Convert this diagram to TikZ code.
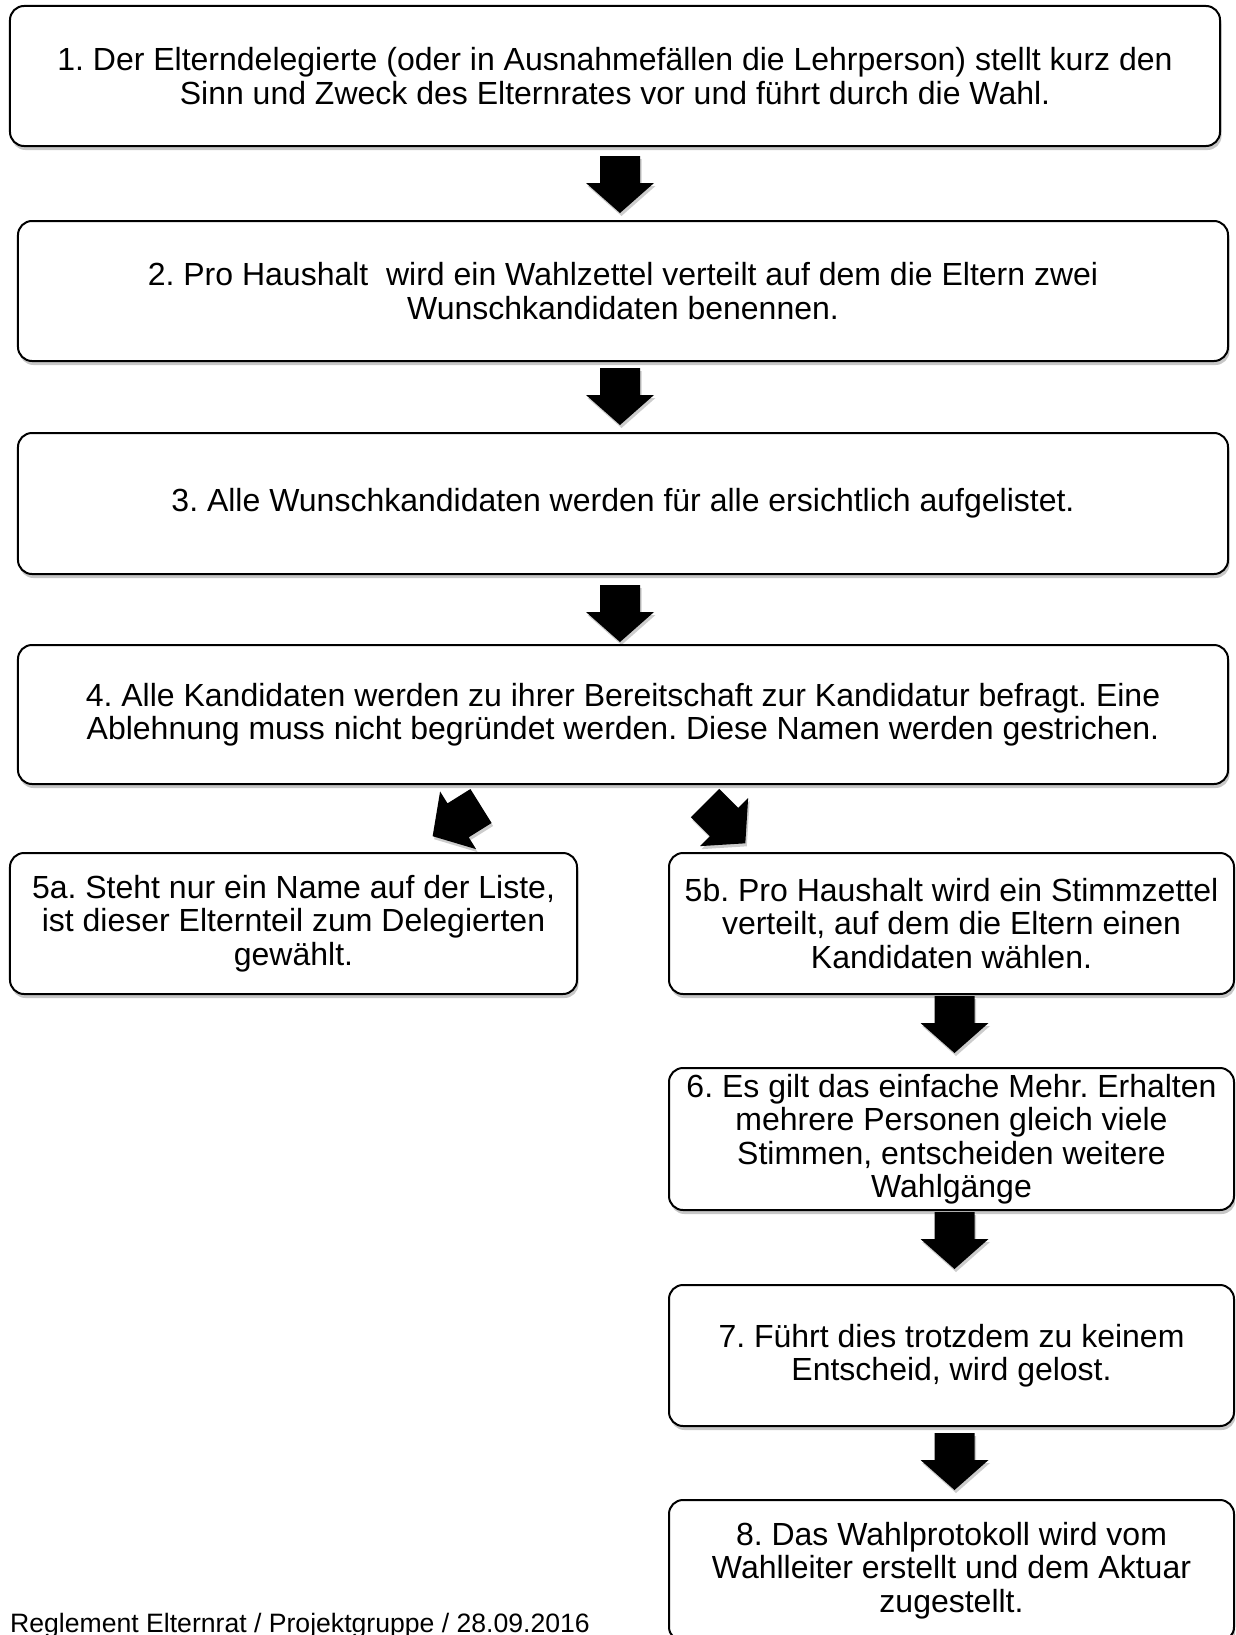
\documentclass[tikz,border=0pt]{standalone}
\usepackage{fontspec}
\setmainfont{Liberation Sans}
\usetikzlibrary{shadows,calc}
\frenchspacing
\tikzset{
  stepbox/.style={draw=black, line width=2bp, rounded corners=14bp, fill=white,
    align=center, inner sep=0pt,
    font=\fontsize{32bp}{33.5bp}\selectfont,
    drop shadow={shadow xshift=1.5bp, shadow yshift=-4bp, opacity=0.22, fill=black}},
  pics/barrow/.style={code={
    \fill[black, drop shadow={shadow xshift=1.5bp, shadow yshift=-3bp, opacity=0.2, fill=black}]
      (0,-20) -- (27,-20) -- (27,-34) -- (57,0) -- (27,34) -- (27,20) -- (0,20) -- cycle;
  }},
}
\begin{document}
\frenchspacing
\begin{tikzpicture}[x=1bp, y=-1bp]
\useasboundingbox (0,0) rectangle (1235,1635);
\clip (0,0) rectangle (1235,1635);

\node[stepbox, minimum width=1210bp, minimum height=140bp] (b1) at (615,76)
  {1. Der Elterndelegierte (oder in Ausnahmefällen die Lehrperson) stellt kurz den\\
   Sinn und Zweck des Elternrates vor und führt durch die Wahl.};
\node[stepbox, minimum width=1210bp, minimum height=140bp] (b2) at (623,291)
  {2. Pro Haushalt~ wird ein Wahlzettel verteilt auf dem die Eltern zwei\\
   Wunschkandidaten benennen.};
\node[stepbox, minimum width=1210bp, minimum height=141bp] (b3) at (623,503.5)
  {3. Alle Wunschkandidaten werden für alle ersichtlich aufgelistet.};
\node[stepbox, minimum width=1210bp, minimum height=139bp] (b4) at (623,714.5)
  {4. Alle Kandidaten werden zu ihrer Bereitschaft zur Kandidatur befragt. Eine\\
   Ablehnung muss nicht begründet werden. Diese Namen werden gestrichen.};
\node[stepbox, minimum width=567bp, minimum height=141bp] (b5a) at (293.5,923.5)
  {5a. Steht nur ein Name auf der Liste,\\
   ist dieser Elternteil zum Delegierten\\
   gewählt.};
\node[stepbox, minimum width=565bp, minimum height=141bp] (b5b) at (951.5,923.5)
  {5b. Pro Haushalt wird ein Stimmzettel\\
   verteilt, auf dem die Eltern einen\\
   Kandidaten wählen.};
\node[stepbox, minimum width=565bp, minimum height=142bp] (b6) at (951.5,1139)
  {6. Es gilt das einfache Mehr. Erhalten\\
   mehrere Personen gleich viele\\
   Stimmen, entscheiden weitere\\
   Wahlgänge};
\node[stepbox, minimum width=565bp, minimum height=141bp] (b7) at (951.5,1355.5)
  {7. Führt dies trotzdem zu keinem\\
   Entscheid, wird gelost.};
\node[stepbox, minimum width=565bp, minimum height=141bp] (b8) at (951.5,1570.5)
  {8. Das Wahlprotokoll wird vom\\
   Wahlleiter erstellt und dem Aktuar\\
   zugestellt.};

\pic[rotate=-90] at ($(b1.south)+(5,9)$) {barrow};
\pic[rotate=-90] at ($(b2.south)+(-3,6)$) {barrow};
\pic[rotate=-90] at ($(b3.south)+(-3,10)$) {barrow};
\pic[rotate=-148] at ($(b4.south)+(-142,21)$) {barrow};
\pic[rotate=-45] at ($(b4.south)+(82,18)$) {barrow};
\pic[rotate=-90] at ($(b5b.south)+(3,1)$) {barrow};
\pic[rotate=-90] at ($(b6.south)+(3,1)$) {barrow};
\pic[rotate=-90] at ($(b7.south)+(3,6)$) {barrow};

\node[anchor=base west, inner sep=0pt, font=\fontsize{26.6bp}{28bp}\selectfont] (foot) at (10,1632)
  {Reglement Elternrat / Projektgruppe / 28.09.2016};
\end{tikzpicture}
\end{document}
